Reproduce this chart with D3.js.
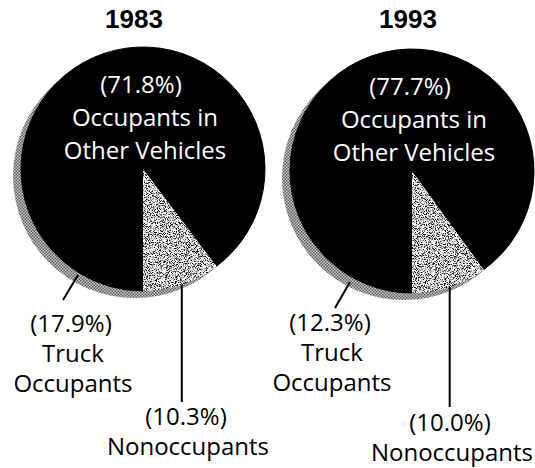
<!DOCTYPE html>
<html><head><meta charset="utf-8">
<script src="https://cdn.jsdelivr.net/npm/d3@7"></script>
<style>body{margin:0;background:#fff}</style></head>
<body>
<svg id="chart" width="535" height="468"></svg>
<script>
// ---- data ----
const years = ["1983", "1993"];
const categories = ["Nonoccupants", "Truck Occupants", "Occupants in Other Vehicles"];
const shares1983 = [10.3, 17.9, 71.8];
const shares1993 = [10.0, 12.3, 77.7];
const seriesValues = [shares1983, shares1993];
const labelLines = [["Nonoccupants"], ["Truck", "Occupants"], ["Occupants in", "Other Vehicles"]];

// ---- layout ----
const W = 535, H = 468, R = 122;
const layout = [
  { cx: 143, cy: 169, titleX: 134,
    truck: { x: 71, y: 332, l1: [63, 300], l2: [78, 275] },
    non: { x: 186, y: 425, lineEnd: 402 } },
  { cx: 412, cy: 171, titleX: 408,
    truck: { x: 330, y: 331, l1: [335, 308], l2: [350, 282] },
    non: { x: 450, y: 431, lineEnd: 407 } }
];
const lineGap = 30;
const fontText = "'Open Sans', 'DejaVu Sans', sans-serif";

const svg = d3.select("#chart");
const defs = svg.append("defs");

// speckled texture for the nonoccupant slice
const f = defs.append("filter").attr("id", "speckle")
  .attr("x", 0).attr("y", 0).attr("width", 1).attr("height", 1)
  .attr("color-interpolation-filters", "sRGB");
f.append("feTurbulence").attr("type", "fractalNoise").attr("baseFrequency", 1.1)
  .attr("numOctaves", 2).attr("seed", 7).attr("result", "t");
f.append("feColorMatrix").attr("in", "t").attr("type", "matrix")
  .attr("values", "1 0 0 0 0  1 0 0 0 0  1 0 0 0 0  0 0 0 0 1").attr("result", "g");
const ct = f.append("feComponentTransfer").attr("in", "g").attr("result", "c");
["feFuncR", "feFuncG", "feFuncB"].forEach(n =>
  ct.append(n).attr("type", "linear").attr("slope", 4.5).attr("intercept", -1.45));
f.append("feComposite").attr("in", "c").attr("in2", "SourceGraphic").attr("operator", "in");

// checker halftone for the shadow rim
const pat = defs.append("pattern").attr("id", "checker")
  .attr("patternUnits", "userSpaceOnUse").attr("width", 3).attr("height", 3);
pat.append("rect").attr("width", 3).attr("height", 3).attr("fill", "#d0d0d0");
pat.append("rect").attr("width", 1.5).attr("height", 1.5).attr("fill", "#555");
pat.append("rect").attr("x", 1.5).attr("y", 1.5).attr("width", 1.5).attr("height", 1.5).attr("fill", "#555");

const color = d3.scaleOrdinal().domain(categories).range(["#bdbdbd", "#000", "#000"]);
const arc = d3.arc().innerRadius(0).outerRadius(R);

years.forEach((yr, i) => {
  const vals = seriesValues[i];
  const L = layout[i];
  const start = Math.PI - vals[0] / 100 * 2 * Math.PI;
  const pie = d3.pie().sort(null).value(d => d).startAngle(start).endAngle(start + 2 * Math.PI);
  const arcs = pie(vals);

  // title
  svg.append("text").attr("x", L.titleX).attr("y", 28).attr("text-anchor", "middle")
    .attr("font-family", "'Liberation Sans', Arial, sans-serif").attr("font-weight", "bold")
    .attr("font-size", 26).attr("fill", "#000").text(yr);

  const g = svg.append("g").attr("transform", `translate(${L.cx},${L.cy})`);
  // shadow rim
  g.append("circle").attr("cx", -8).attr("cy", 7).attr("r", R).attr("fill", "url(#checker)");
  // slices
  g.selectAll("path.slice").data(arcs).join("path").attr("class", "slice")
    .attr("d", arc)
    .attr("fill", (d, j) => color(categories[j]))
    .attr("stroke", (d, j) => j === 0 ? "none" : "#000")
    .attr("stroke-width", 1)
    .attr("stroke-linejoin", "round")
    .attr("filter", (d, j) => j === 0 ? "url(#speckle)" : null);
  // redraw speckled slice on top so black strokes don't eat into it
  g.append("path").attr("d", arc(arcs[0])).attr("fill", color(categories[0]))
    .attr("filter", "url(#speckle)");

  // inside label (largest slice)
  const big = g.append("text").attr("text-anchor", "middle").attr("fill", "#fff")
    .attr("font-family", fontText).attr("font-size", 24);
  const inLines = [`(${vals[2].toFixed(1)}%)`].concat(labelLines[2]);
  inLines.forEach((t, k) => big.append("tspan").attr("x", k === 0 ? -2 : 2)
    .attr("y", -76 + k * 33).text(t));

  // truck label + leader
  svg.append("line").attr("x1", L.truck.l1[0]).attr("y1", L.truck.l1[1])
    .attr("x2", L.truck.l2[0]).attr("y2", L.truck.l2[1])
    .attr("stroke", "#000").attr("stroke-width", 2);
  const tt = svg.append("text").attr("text-anchor", "middle").attr("fill", "#000")
    .attr("font-family", fontText).attr("font-size", 24);
  [`(${vals[1].toFixed(1)}%)`].concat(labelLines[1]).forEach((t, k) =>
    tt.append("tspan").attr("x", L.truck.x + (k === 0 ? 0 : 2)).attr("y", L.truck.y + k * lineGap).text(t));

  // nonoccupant label + leader from slice mid-angle
  const mid = (arcs[0].startAngle + arcs[0].endAngle) / 2;
  const sx = L.cx + R * Math.sin(mid), sy = L.cy - R * Math.cos(mid);
  svg.append("line").attr("x1", sx).attr("y1", sy).attr("x2", sx).attr("y2", L.non.lineEnd)
    .attr("stroke", "#000").attr("stroke-width", 2);
  const nt = svg.append("text").attr("text-anchor", "middle").attr("fill", "#000")
    .attr("font-family", fontText).attr("font-size", 24);
  [`(${vals[0].toFixed(1)}%)`].concat(labelLines[0]).forEach((t, k) =>
    nt.append("tspan").attr("x", L.non.x + (k === 0 ? 0 : 2)).attr("y", L.non.y + k * 30).text(t));
});
</script>
</body></html>
